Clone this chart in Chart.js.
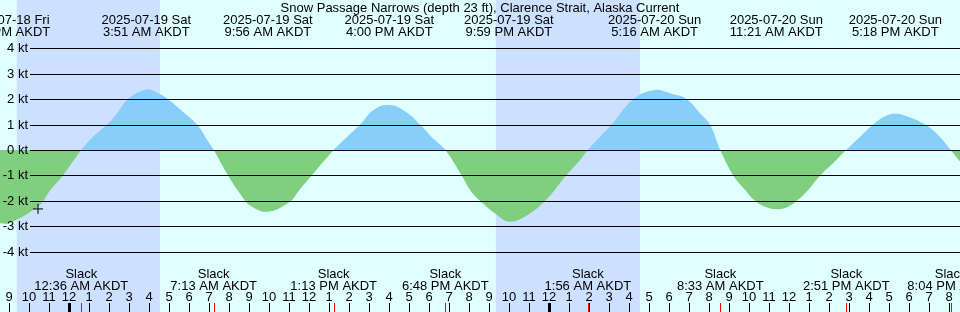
<!DOCTYPE html>
<html>
<head>
<meta charset="utf-8">
<script src="https://cdn.jsdelivr.net/npm/chart.js@4/dist/chart.umd.min.js"></script>
<style>
  html, body { margin: 0; padding: 0; background: #e0ffff; }
  #wrap { position: relative; width: 960px; height: 312px; }
</style>
</head>
<body>
<div id="wrap"><canvas id="chart" width="960" height="312"></canvas></div>
<script>
// hours since midnight 2025-07-19 AKDT, current speed in knots
const flowHours = [-3.47, -3.12, -2.97, -2.47, -1.97, -1.47, -0.97, -0.32, 0.6, 1.19, 1.89, 2.39, 2.93, 3.85, 4.39, 4.94, 5.69, 6.39, 6.89, 7.22, 7.94, 8.54, 9.04, 9.93, 11.04, 11.5, 12.12, 13.22, 13.9, 14.54, 15.19, 16.0, 16.89, 17.54, 18.1, 18.8, 19.62, 20.04, 20.54, 21.29, 21.98, 22.79, 23.79, 24.84, 25.54, 25.93, 26.54, 27.12, 28.2, 29.27, 30.04, 30.87, 31.54, 32.03, 32.55, 33.2, 33.79, 34.29, 34.79, 35.35, 35.89, 36.37, 36.94, 37.54, 38.19, 38.85, 39.54, 40.2, 40.74, 41.3, 42.04, 42.79, 43.44, 44.07, 44.54];
const flowKnots = [-2.88, -2.9, -2.86, -2.68, -2.45, -2.17, -1.6, -1.0, 0, 0.52, 1.0, 1.45, 2.0, 2.38, 2.25, 2.0, 1.5, 1.0, 0.4, 0, -1.0, -1.72, -2.18, -2.43, -2.03, -1.57, -1.0, 0, 0.52, 1.0, 1.57, 1.77, 1.47, 1.0, 0.52, 0, -1.0, -1.57, -2.0, -2.5, -2.82, -2.62, -2.0, -1.0, -0.39, 0, 0.52, 1.0, 2.0, 2.36, 2.23, 2.0, 1.45, 1.0, 0, -1.0, -1.57, -2.0, -2.23, -2.33, -2.25, -2.0, -1.57, -1.0, -0.52, 0, 0.52, 1.0, 1.31, 1.44, 1.28, 1.0, 0.59, 0, -0.46];

// max flood / max ebb events (top labels)
const peakHours = [-3.12, 3.85, 9.93, 16.0, 21.98, 29.27, 35.35, 41.3];
const peakDates = ['2025-07-18 Fri', '2025-07-19 Sat', '2025-07-19 Sat', '2025-07-19 Sat', '2025-07-19 Sat', '2025-07-20 Sun', '2025-07-20 Sun', '2025-07-20 Sun'];
const peakTimes = ['8:53 PM AKDT', '3:51 AM AKDT', '9:56 AM AKDT', '4:00 PM AKDT', '9:59 PM AKDT', '5:16 AM AKDT', '11:21 AM AKDT', '5:18 PM AKDT'];

// slack water events (bottom labels)
const slackHours = [0.6, 7.22, 13.22, 18.8, 25.93, 32.55, 38.85, 44.07];
const slackTimes = ['12:36 AM AKDT', '7:13 AM AKDT', '1:13 PM AKDT', '6:48 PM AKDT', '1:56 AM AKDT', '8:33 AM AKDT', '2:51 PM AKDT', '8:04 PM AKDT'];

// night (sunset -> sunrise)
const nightStart = [-2.63, 21.33];
const nightEnd = [4.53, 28.53];

const knotTicks = [4, 3, 2, 1, 0, -1, -2, -3, -4];
const markHour = [-1.565];
const markKnots = [-2.32];

const FONT = '13px "Liberation Sans", Arial, sans-serif';

const tidePlugin = {
    id: 'tide',
    beforeDraw(chart) {
        const { ctx, scales: { x } } = chart;
        ctx.save();
        ctx.fillStyle = '#e0ffff';
        ctx.fillRect(0, 0, chart.width, chart.height);
        ctx.fillStyle = '#cce0ff';
        nightStart.forEach((s, i) => {
            const x0 = x.getPixelForValue(s);
            const x1 = x.getPixelForValue(nightEnd[i]);
            ctx.fillRect(x0, 0, x1 - x0, chart.height);
        });
        ctx.restore();
    },
    afterDatasetsDraw(chart) {
        const { ctx, scales: { x, y } } = chart;
        ctx.save();
        // horizontal grid + kt labels
        ctx.strokeStyle = '#000';
        ctx.lineWidth = 1;
        ctx.font = FONT;
        ctx.fillStyle = '#000';
        ctx.textAlign = 'right';
        ctx.textBaseline = 'middle';
        knotTicks.forEach(k => {
            const py = Math.round(y.getPixelForValue(k)) + 0.5;
            ctx.beginPath();
            ctx.moveTo(30, py);
            ctx.lineTo(chart.width, py);
            ctx.stroke();
            ctx.fillText(k + ' kt', 28, py);
        });

        // title and peak labels
        ctx.textAlign = 'center';
        ctx.fillText('Snow Passage Narrows (depth 23 ft), Clarence Strait, Alaska Current', 480, 8);
        peakHours.forEach((h, i) => {
            const px = x.getPixelForValue(h);
            ctx.fillText(peakDates[i], px, 20);
            ctx.fillText(peakTimes[i], px, 32);
        });

        // slack labels
        slackHours.forEach((h, i) => {
            const px = x.getPixelForValue(h);
            ctx.fillText('Slack', px, 274);
            ctx.fillText(slackTimes[i], px, 286);
        });

        // hour ticks
        for (let h = Math.ceil(x.min); h <= Math.floor(x.max); h++) {
            const px = Math.round(x.getPixelForValue(h));
            const hod = ((h % 24) + 24) % 24;
            const lbl = hod % 12 === 0 ? 12 : hod % 12;
            ctx.fillText(String(lbl), px, 297);
            if (hod === 0) ctx.fillRect(px - 1, 303, 3, 9);
            else ctx.fillRect(px, 303, 1, 9);
        }
        ctx.fillStyle = '#ff0000';
        slackHours.forEach(h => {
            const px = Math.round(x.getPixelForValue(h));
            ctx.fillRect(px, 303, 1, 9);
        });
        ctx.restore();
    }
};

new Chart(document.getElementById('chart'), {
    type: 'line',
    data: {
        datasets: [{
            data: flowHours.map((h, i) => ({ x: h, y: flowKnots[i] })),
            borderWidth: 0,
            borderColor: 'rgba(0,0,0,0)',
            pointRadius: 0,
            tension: 0.4,
            fill: { target: 'origin', above: '#87cefa', below: '#7fcf7f' },
            order: 2
        }, {
            type: 'scatter',
            data: markHour.map((h, i) => ({ x: h, y: markKnots[i] })),
            pointStyle: 'cross',
            pointRadius: 5,
            borderColor: '#000',
            borderWidth: 1,
            order: 1
        }]
    },
    options: {
        responsive: false,
        animation: false,
        layout: { padding: 0, autoPadding: false },
        plugins: {
            legend: { display: false },
            tooltip: { enabled: false }
        },
        scales: {
            x: { type: 'linear', min: -3.465, max: 44.535, display: false },
            y: { min: -6.378, max: 5.906, display: false }
        }
    },
    plugins: [tidePlugin]
});
</script>
</body>
</html>
